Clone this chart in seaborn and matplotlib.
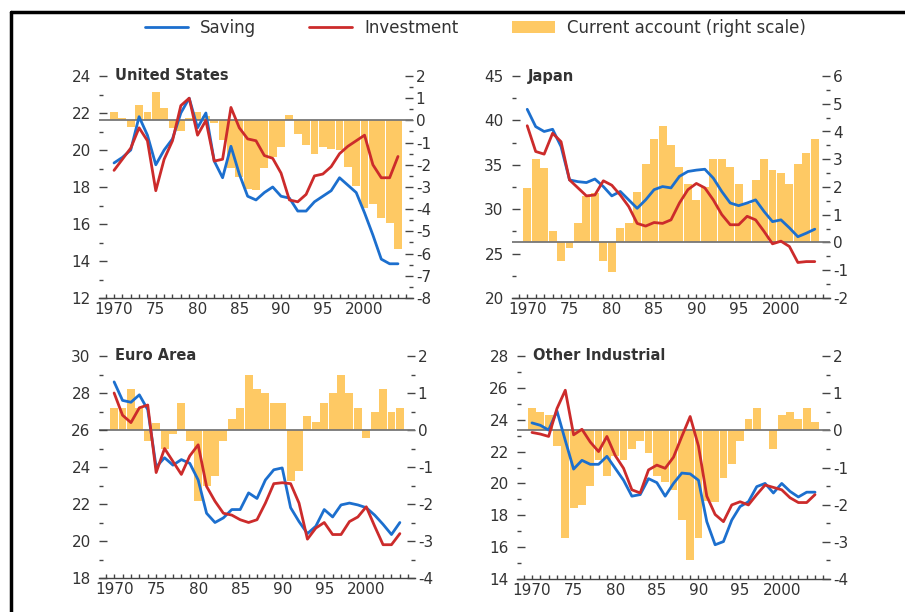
import matplotlib
matplotlib.use("Agg")
import matplotlib.pyplot as plt
from matplotlib.lines import Line2D
from matplotlib.patches import Patch
from matplotlib.ticker import MultipleLocator, FixedLocator, FixedFormatter
import pandas as pd
import seaborn as sns

# 📥 Données (en % du PIB)
years = list(range(1970, 2005))

us_saving = [19.3, 19.6, 20.0, 21.8, 20.8, 19.2, 20.0, 20.6, 22.0, 22.8,
             21.2, 22.0, 19.4, 18.5, 20.2, 18.7, 17.5, 17.3, 17.7, 18.0,
             17.5, 17.4, 16.7, 16.7, 17.2, 17.5, 17.8, 18.5, 18.1, 17.7,
             16.6, 15.4, 14.1, 13.85, 13.85]
us_invest = [18.9, 19.5, 20.1, 21.2, 20.5, 17.8, 19.5, 20.5, 22.4, 22.8,
             20.8, 21.6, 19.4, 19.5, 22.3, 21.2, 20.6, 20.5, 19.7, 19.55,
             18.75, 17.3, 17.2, 17.6, 18.6, 18.7, 19.1, 19.8, 20.2, 20.5,
             20.8, 19.2, 18.5, 18.5, 19.65]
us_ca = [0.4, 0.1, -0.3, 0.7, 0.4, 1.3, 0.55, -0.35, -0.5, 0.1,
         0.4, 0.2, -0.1, -0.9, -2.15, -2.55, -3.1, -3.15, -2.15, -1.65,
         -1.2, 0.25, -0.6, -1.1, -1.5, -1.2, -1.3, -1.35, -2.1, -2.95,
         -3.95, -3.75, -4.4, -4.6, -5.8]

jp_saving = [41.25, 39.3, 38.75, 39.0, 37.05, 33.3, 33.1, 33.0, 33.4, 32.55,
             31.5, 32.0, 31.05, 30.1, 31.05, 32.2, 32.55, 32.4, 33.7, 34.25,
             34.4, 34.5, 33.5, 32.0, 30.7, 30.4, 30.7, 31.05, 29.75, 28.6,
             28.8, 27.9, 26.9, 27.3, 27.75]
jp_invest = [39.4, 36.5, 36.2, 38.55, 37.6, 33.3, 32.4, 31.5, 31.6, 33.2,
             32.7, 31.6, 30.3, 28.4, 28.1, 28.5, 28.4, 28.8, 30.7, 32.2,
             32.9, 32.4, 31.05, 29.4, 28.25, 28.25, 29.2, 28.8, 27.5, 26.1,
             26.4, 25.8, 24.0, 24.1, 24.1]
jp_ca = [1.95, 3.0, 2.7, 0.42, -0.68, -0.2, 0.7, 1.68, 1.8, -0.68,
         -1.08, 0.52, 0.7, 1.81, 2.83, 3.73, 4.2, 3.51, 2.71, 2.11,
         1.53, 2.01, 3.0, 3.0, 2.71, 2.11, 1.4, 2.25, 3.0, 2.6,
         2.5, 2.1, 2.83, 3.24, 3.73]

ea_saving = [28.6, 27.6, 27.5, 27.9, 27.1, 24.0, 24.5, 24.1, 24.4, 24.2,
             23.3, 21.5, 21.0, 21.25, 21.7, 21.7, 22.6, 22.3, 23.3, 23.85,
             23.95, 21.8, 21.05, 20.4, 20.8, 21.7, 21.3, 21.95, 22.05, 21.95,
             21.8, 21.4, 20.9, 20.35, 21.0]
ea_invest = [28.0, 26.8, 26.4, 27.2, 27.35, 23.7, 25.0, 24.3, 23.6, 24.6,
             25.2, 22.95, 22.15, 21.5, 21.4, 21.15, 21.0, 21.15, 22.05, 23.1,
             23.15, 23.1, 22.05, 20.1, 20.7, 21.0, 20.35, 20.35, 21.05, 21.3,
             21.85, 20.8, 19.8, 19.8, 20.4]
ea_ca = [0.6, 0.6, 1.1, 0.6, -0.3, 0.2, -0.5, -0.1, 0.72, -0.3,
         -1.93, -1.5, -1.24, -0.3, 0.29, 0.6, 1.48, 1.1, 0.99, 0.72,
         0.72, -1.39, -1.12, 0.39, 0.22, 0.72, 0.99, 1.48, 0.99, 0.6,
         -0.22, 0.5, 1.1, 0.5, 0.6]

oi_saving = [23.8, 23.65, 23.35, 24.55, 22.7, 20.9, 21.45, 21.2, 21.2, 21.7,
             20.95, 20.2, 19.2, 19.3, 20.3, 20.05, 19.2, 20.0, 20.65, 20.6,
             20.2, 17.6, 16.15, 16.35, 17.7, 18.55, 18.85, 19.8, 20.0, 19.4,
             20.0, 19.5, 19.15, 19.45, 19.45]
oi_invest = [23.2, 23.1, 22.95, 24.7, 25.85, 23.05, 23.4, 22.6, 22.0, 22.95,
             21.75, 20.95, 19.6, 19.4, 20.85, 21.15, 20.95, 21.65, 22.95, 24.2,
             22.35, 19.2, 18.05, 17.6, 18.65, 18.85, 18.65, 19.3, 19.9, 19.75,
             19.6, 19.1, 18.8, 18.8, 19.3]
oi_ca = [0.61, 0.5, 0.41, -0.42, -2.9, -2.1, -2.0, -1.49, -0.8, -1.23,
         -0.7, -0.8, -0.51, -0.3, -0.62, -1.23, -1.38, -1.6, -2.42, -3.48,
         -2.9, -1.9, -1.92, -1.29, -0.9, -0.3, 0.3, 0.61, 0.0, -0.5,
         0.41, 0.5, 0.3, 0.61, 0.23]

year_ticks = [1970, 1975, 1980, 1985, 1990, 1995, 2000]
year_labels = ["1970", "75", "80", "85", "90", "95", "2000"]

BLUE = "#1c6fce"
RED = "#cc2b2b"
BAR = "#fec964"

W, H = 905, 612

# 🧩 Panneaux : titre, séries, limites gauche / droite, position (px)
panels = [
    ("United States", us_saving, us_invest, us_ca, (12, 24), 2, (-8, 2), (99, 76, 413, 298)),
    ("Japan", jp_saving, jp_invest, jp_ca, (20, 45), 5, (-2, 6), (512, 76, 830, 298)),
    ("Euro Area", ea_saving, ea_invest, ea_ca, (18, 30), 2, (-4, 2), (99, 356, 415, 578)),
    ("Other Industrial", oi_saving, oi_invest, oi_ca, (14, 28), 2, (-4, 2), (517, 356, 830, 579)),
]

sns.set_theme(style="white")
plt.rcParams["font.family"] = ["DejaVu Sans"]
plt.rcParams["axes.unicode_minus"] = False

fig = plt.figure(figsize=(W / 100, H / 100), dpi=100)

for title, sav, inv, ca, ylim, ystep, y2lim, (l, t, r, b) in panels:
    df = pd.DataFrame({"year": years, "Saving": sav, "Investment": inv, "ca": ca})
    ax = fig.add_axes([l / W, 1 - b / H, (r - l) / W, (b - t) / H])
    ax2 = ax.twinx()

    # 📊 Barres (échelle de droite)
    sns.barplot(data=df, x="year", y="ca", native_scale=True, color=BAR,
                saturation=1, width=0.94, errorbar=None, linewidth=0, ax=ax2)
    ax2.axhline(0, color="#777777", lw=1.3, zorder=5)

    # 📈 Lignes (échelle de gauche)
    sns.lineplot(data=df, x="year", y="Saving", color=BLUE, lw=2.0, ax=ax)
    sns.lineplot(data=df, x="year", y="Investment", color=RED, lw=2.0, ax=ax)

    ax.set_zorder(ax2.get_zorder() + 1)
    ax.patch.set_visible(False)

    ax.set_xlim(1968.2, 2005.8)
    ax.set_ylim(*ylim)
    ax2.set_ylim(*y2lim)
    for a in (ax, ax2):
        a.set_xlabel("")
        a.set_ylabel("")
        for s in a.spines.values():
            s.set_visible(False)
    ax.spines["bottom"].set_visible(True)
    ax.spines["bottom"].set_color("#444444")
    ax.spines["bottom"].set_linewidth(1.0)

    ax.yaxis.set_major_locator(MultipleLocator(ystep))
    ax.yaxis.set_minor_locator(MultipleLocator(ystep / 2))
    ax2.yaxis.set_major_locator(MultipleLocator(1))
    ax2.yaxis.set_minor_locator(MultipleLocator(0.5))
    ax.xaxis.set_major_locator(FixedLocator(year_ticks))
    ax.xaxis.set_major_formatter(FixedFormatter(year_labels))
    ax.xaxis.set_minor_locator(MultipleLocator(1))

    ax.tick_params(axis="y", which="major", direction="in", length=6, width=1,
                   color="#444444", labelcolor="#333333", labelsize=11, pad=6,
                   left=True)
    ax.tick_params(axis="y", which="minor", direction="in", length=3, width=1,
                   color="#444444", left=True)
    ax2.tick_params(axis="y", which="major", direction="in", length=6, width=1,
                    color="#444444", labelcolor="#333333", labelsize=11, pad=2,
                    right=True)
    ax2.tick_params(axis="y", which="minor", direction="in", length=3, width=1,
                    color="#444444", right=True)
    ax.tick_params(axis="x", which="both", direction="in", length=3, width=1,
                   color="#444444", labelcolor="#333333", labelsize=11, pad=3,
                   bottom=True)
    ax.grid(False)
    ax2.grid(False)

    ax.text(0.05, 1.0, title, transform=ax.transAxes, ha="left", va="center",
            fontsize=10.5, fontweight="bold", color="#333333")

# 🏷️ Légende commune
handles = [
    Line2D([], [], color=BLUE, lw=2.0),
    Line2D([], [], color=RED, lw=2.0),
    Patch(facecolor=BAR, edgecolor="none"),
]
fig.legend(handles, ["Saving", "Investment", "Current account (right scale)"],
           loc="center", bbox_to_anchor=(0.525, 1 - 28 / H), ncol=3, frameon=False,
           fontsize=12, handlelength=2.6, handletextpad=0.7, columnspacing=3.2,
           labelcolor="#333333")

# cadre noir (haut et gauche)
fig.add_artist(Line2D([11 / W, 1], [1 - 12 / H, 1 - 12 / H], color="black", lw=2.5,
                      transform=fig.transFigure))
fig.add_artist(Line2D([11 / W, 11 / W], [0, 1 - 12 / H], color="black", lw=2.5,
                      transform=fig.transFigure))

fig.savefig("out.png", dpi=100)
